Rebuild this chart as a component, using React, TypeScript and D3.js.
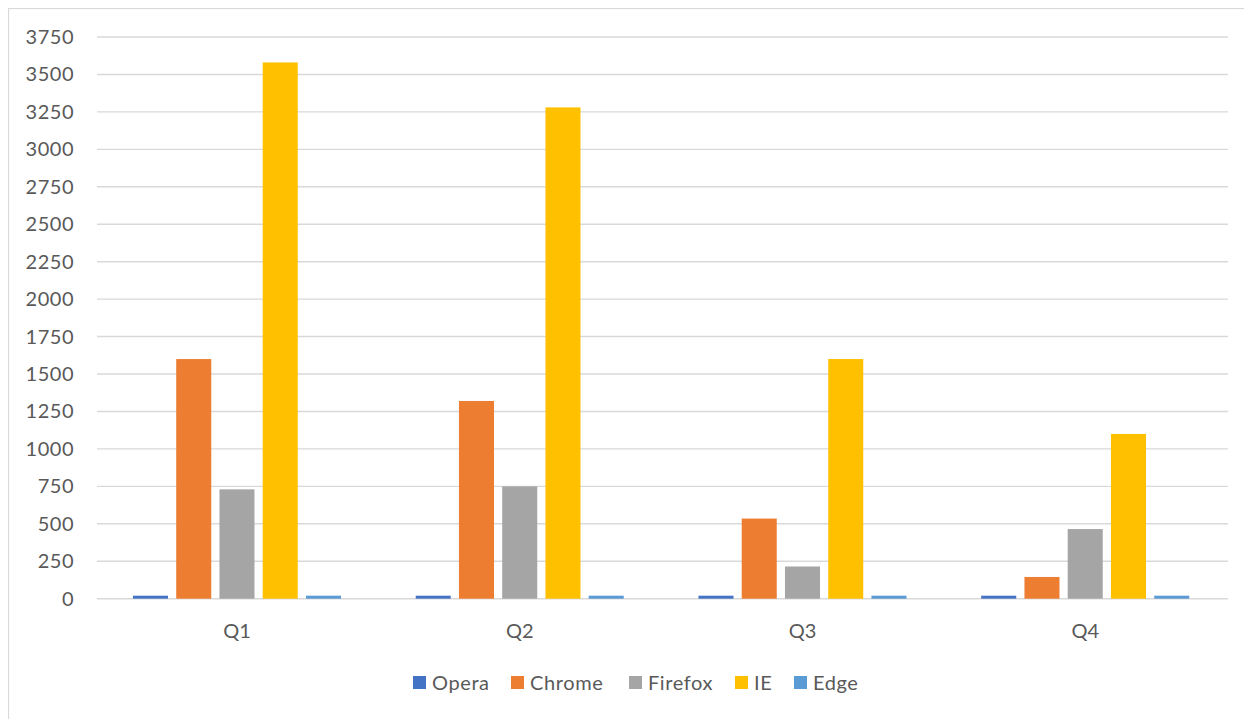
import React from "react";
import * as d3 from "d3";

const categories = ["Q1", "Q2", "Q3", "Q4"];
const seriesNames = ["Opera", "Chrome", "Firefox", "IE", "Edge"];
const opera = [20, 20, 20, 20];
const chrome = [1600, 1320, 535, 145];
const firefox = [730, 750, 215, 465];
const ie = [3580, 3280, 1600, 1100];
const edge = [20, 20, 20, 20];
const yTicks = [0, 250, 500, 750, 1000, 1250, 1500, 1750, 2000, 2250, 2500, 2750, 3000, 3250, 3500, 3750];
const colors = ["#4472C4", "#ED7D31", "#A5A5A5", "#FFC000", "#5B9BD5"];

const seriesValues = [opera, chrome, firefox, ie, edge];

const W = 1244;
const H = 711;
const OFF = 8;
const FONT = "Lato, 'Open Sans', sans-serif";
const TEXT = "#595959";

export default function App() {
  const plotLeft = 97 - OFF;
  const plotRight = 1228 - OFF;
  const y = d3.scaleLinear().domain([0, 3750]).range([598.7 - OFF, 37 - OFF]);
  const x0 = d3.scaleBand<string>().domain(categories).range([plotLeft, plotRight]).padding(0);
  const groupW = 216.25;
  const x1 = d3
    .scaleBand<string>()
    .domain(seriesNames)
    .range([0, groupW])
    .paddingInner(0.19)
    .paddingOuter(0.095);
  const groupOffset = (x0.bandwidth() - groupW) / 2 - 1.4;

  const legendX = [413, 511, 629, 735, 794];

  return (
    <svg width={W} height={H} style={{ display: "block" }} fontFamily={FONT}>
      <rect x={0} y={0} width={W} height={H} fill="#fff" />
      <rect x={0.5} y={0.5} width={W + 20} height={H + 20} fill="none" stroke="#d9d9d9" strokeWidth={1.2} />
      {yTicks.map((t) => (
        <g key={t}>
          <line x1={plotLeft} x2={plotRight} y1={y(t)} y2={y(t)} stroke="#d9d9d9" strokeWidth={1.4} />
          <text x={74 - OFF} y={y(t)} dy="0.35em" textAnchor="end" fontSize={20} letterSpacing={0.5} fill={TEXT}>
            {t}
          </text>
        </g>
      ))}
      {categories.map((c, ci) => (
        <g key={c} transform={`translate(${(x0(c) as number) + groupOffset},0)`}>
          {seriesNames.map((s, si) => {
            const v = seriesValues[si][ci];
            return (
              <rect
                key={s}
                x={x1(s)}
                y={y(v)}
                width={x1.bandwidth()}
                height={y(0) - y(v)}
                fill={colors[si]}
              />
            );
          })}
        </g>
      ))}
      {categories.map((c) => (
        <text
          key={c}
          x={(x0(c) as number) + x0.bandwidth() / 2 - 1.4}
          y={631 - OFF}
          dy="0.35em"
          textAnchor="middle"
          fontSize={20}
          fill={TEXT}
        >
          {c}
        </text>
      ))}
      {seriesNames.map((s, i) => (
        <g key={s} transform={`translate(${legendX[i] - OFF},${683 - OFF})`}>
          <rect x={0} y={-7} width={13} height={13} fill={colors[i]} />
          <text x={19} y={0} dy="0.35em" fontSize={20} letterSpacing={0.6} fill={TEXT}>
            {s}
          </text>
        </g>
      ))}
    </svg>
  );
}
